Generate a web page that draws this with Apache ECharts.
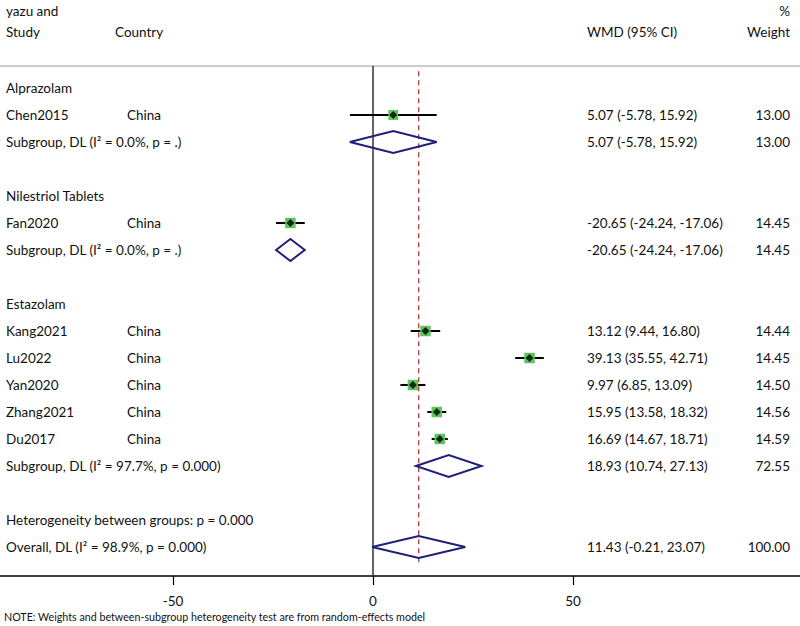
<!DOCTYPE html>
<html><head><meta charset="utf-8">
<script src="https://cdn.jsdelivr.net/npm/echarts@6/dist/echarts.min.js"></script>
<style>html,body{margin:0;padding:0;background:#fff}#c{width:800px;height:626px}</style>
</head><body><div id="c"></div>
<script>
// ---- data ----
const groupNames = ['Alprazolam', 'Nilestriol Tablets', 'Estazolam'];
const studyNames = ['Chen2015', 'Fan2020', 'Kang2021', 'Lu2022', 'Yan2020', 'Zhang2021', 'Du2017'];
const studyCountry = ['China', 'China', 'China', 'China', 'China', 'China', 'China'];
const studyGroup = [0, 1, 2, 2, 2, 2, 2];
const studyWMD = [5.07, -20.65, 13.12, 39.13, 9.97, 15.95, 16.69];
const studyLow = [-5.78, -24.24, 9.44, 35.55, 6.85, 13.58, 14.67];
const studyHigh = [15.92, -17.06, 16.80, 42.71, 13.09, 18.32, 18.71];
const studyWeight = [13.00, 14.45, 14.44, 14.45, 14.50, 14.56, 14.59];
const subLabels = ['Subgroup, DL (I\u00B2 = 0.0%, p = .)', 'Subgroup, DL (I\u00B2 = 0.0%, p = .)', 'Subgroup, DL (I\u00B2 = 97.7%, p = 0.000)'];
const subWMD = [5.07, -20.65, 18.93];
const subLow = [-5.78, -24.24, 10.74];
const subHigh = [15.92, -17.06, 27.13];
const subWeight = [13.00, 14.45, 72.55];
const hetLabel = 'Heterogeneity between groups: p = 0.000';
const overallLabel = 'Overall, DL (I\u00B2 = 98.9%, p = 0.000)';
const overallWMD = 11.43, overallLow = -0.21, overallHigh = 23.07, overallWeight = 100.00;
const xTicks = [-50, 0, 50];
const noteText = 'NOTE: Weights and between-subgroup heterogeneity test are from random-effects model';

// ---- build row layout ----
const rows = [];
groupNames.forEach((g, gi) => {
  rows.push({type: 'header', label: g});
  studyNames.forEach((s, si) => {
    if (studyGroup[si] === gi) rows.push({type: 'study', label: s, country: studyCountry[si], est: studyWMD[si], lo: studyLow[si], hi: studyHigh[si], w: studyWeight[si]});
  });
  rows.push({type: 'sub', label: subLabels[gi], est: subWMD[gi], lo: subLow[gi], hi: subHigh[gi], w: subWeight[gi]});
  rows.push({type: 'blank'});
});
rows.push({type: 'het', label: hetLabel});
rows.push({type: 'overall', label: overallLabel, est: overallWMD, lo: overallLow, hi: overallHigh, w: overallWeight});

const FONT = 'Lato';
const FS = 13.5;
const TXT = '#111';
const fmt = v => v.toFixed(2);

const textData = rows.map((r, i) => [0, i]);
const ciData = [], sqData = [], dotData = [], diaData = [];
rows.forEach((r, i) => {
  if (r.type === 'study') {
    ciData.push([r.lo, r.hi, i]);
    sqData.push([r.est, i, r.w]);
    dotData.push([r.est, i]);
  } else if (r.type === 'sub' || r.type === 'overall') {
    diaData.push([r.lo, r.est, r.hi, i]);
  }
});

function txt(x, y, s, align) {
  return {type: 'text', style: {x: x, y: y, text: s, align: align || 'left', verticalAlign: 'middle', fill: TXT, fontSize: FS, fontFamily: FONT}};
}

const chart = echarts.init(document.getElementById('c'), null, {renderer: 'svg'});
chart.setOption({
  animation: false,
  backgroundColor: '#fff',
  grid: {left: 0, right: 0, top: 0, bottom: 50},
  xAxis: {
    type: 'value', min: -93.25, max: 106.75,
    splitLine: {show: false},
    axisLine: {show: true, onZero: false, lineStyle: {color: '#000', width: 1.5}},
    axisTick: {show: true, length: 9, customValues: xTicks, lineStyle: {color: '#000', width: 1.2}},
    axisLabel: {customValues: xTicks, color: TXT, fontSize: 13.5, fontFamily: FONT, margin: 18}
  },
  yAxis: {type: 'value', inverse: true, min: -88 / 27, max: 488 / 27, show: false},
  graphic: [
    {type: 'text', left: 6, top: 4, style: {text: 'yazu and', fill: TXT, fontSize: FS, fontFamily: FONT}},
    {type: 'text', left: 6, top: 25, style: {text: 'Study', fill: TXT, fontSize: FS, fontFamily: FONT}},
    {type: 'text', left: 115, top: 25, style: {text: 'Country', fill: TXT, fontSize: FS, fontFamily: FONT}},
    {type: 'text', left: 587, top: 25, style: {text: 'WMD (95% CI)', fill: TXT, fontSize: FS, fontFamily: FONT}},
    {type: 'text', right: 10, top: 4, style: {text: '%', fill: TXT, fontSize: FS, fontFamily: FONT}},
    {type: 'text', right: 10, top: 25, style: {text: 'Weight', fill: TXT, fontSize: FS, fontFamily: FONT}},
    {type: 'line', shape: {x1: 0, y1: 66, x2: 800, y2: 66}, style: {stroke: '#cccccc', lineWidth: 2}},
    {type: 'text', left: 4, top: 611, style: {text: noteText, fill: TXT, fontSize: 10.7, fontFamily: FONT}}
  ],
  series: [
    { // null line
      type: 'custom', data: [[0]], silent: true, z: 1,
      renderItem: (p, api) => {
        const x = api.coord([0, 0])[0];
        return {type: 'line', shape: {x1: x, y1: 66, x2: x, y2: 576}, style: {stroke: '#333', lineWidth: 1.5}};
      }
    },
    { // overall dashed line
      type: 'custom', data: [[overallWMD]], silent: true, z: 2,
      renderItem: (p, api) => {
        const a = api.coord([api.value(0), -0.62]);
        const b = api.coord([api.value(0), 17.7]);
        return {type: 'line', shape: {x1: a[0], y1: a[1], x2: b[0], y2: b[1]}, style: {stroke: '#b03a3a', lineWidth: 1.3, lineDash: [5, 4]}};
      }
    },
    { // CI lines
      type: 'custom', data: ciData, silent: true, z: 3,
      renderItem: (p, api) => {
        const a = api.coord([api.value(0), api.value(2)]);
        const b = api.coord([api.value(1), api.value(2)]);
        return {type: 'line', shape: {x1: a[0], y1: a[1], x2: b[0], y2: b[1]}, style: {stroke: '#000', lineWidth: 2}};
      }
    },
    { // weight squares
      type: 'scatter', data: sqData, symbol: 'rect', z: 4, silent: true,
      symbolSize: v => 10.5 * Math.sqrt(v[2] / 14.5),
      itemStyle: {color: '#5fc45f', opacity: 1}
    },
    { // point estimates
      type: 'scatter', data: dotData, symbol: 'diamond', symbolSize: 8, z: 5, silent: true,
      itemStyle: {color: '#000'}
    },
    { // diamonds
      type: 'custom', data: diaData, silent: true, z: 4,
      renderItem: (p, api) => {
        const r = api.value(3);
        const l = api.coord([api.value(0), r]);
        const m = api.coord([api.value(1), r]);
        const h = api.coord([api.value(2), r]);
        const hh = 11;
        return {type: 'polygon', shape: {points: [[l[0], l[1]], [m[0], m[1] - hh], [h[0], h[1]], [m[0], m[1] + hh]]},
          style: {fill: 'none', stroke: '#1f1f7a', lineWidth: 2}};
      }
    },
    { // text columns
      type: 'custom', data: textData, silent: true, z: 6,
      renderItem: (p, api) => {
        const r = rows[p.dataIndex];
        const y = api.coord([0, api.value(1)])[1];
        const ch = [];
        if (r.type === 'blank') return {type: 'group', children: []};
        ch.push(txt(6, y, r.label));
        if (r.type === 'study') ch.push(txt(127, y, r.country));
        if (r.est !== undefined) {
          ch.push(txt(587, y, fmt(r.est) + ' (' + fmt(r.lo) + ', ' + fmt(r.hi) + ')'));
          ch.push(txt(790, y, fmt(r.w), 'right'));
        }
        return {type: 'group', children: ch};
      }
    }
  ]
});
</script>
</body></html>
